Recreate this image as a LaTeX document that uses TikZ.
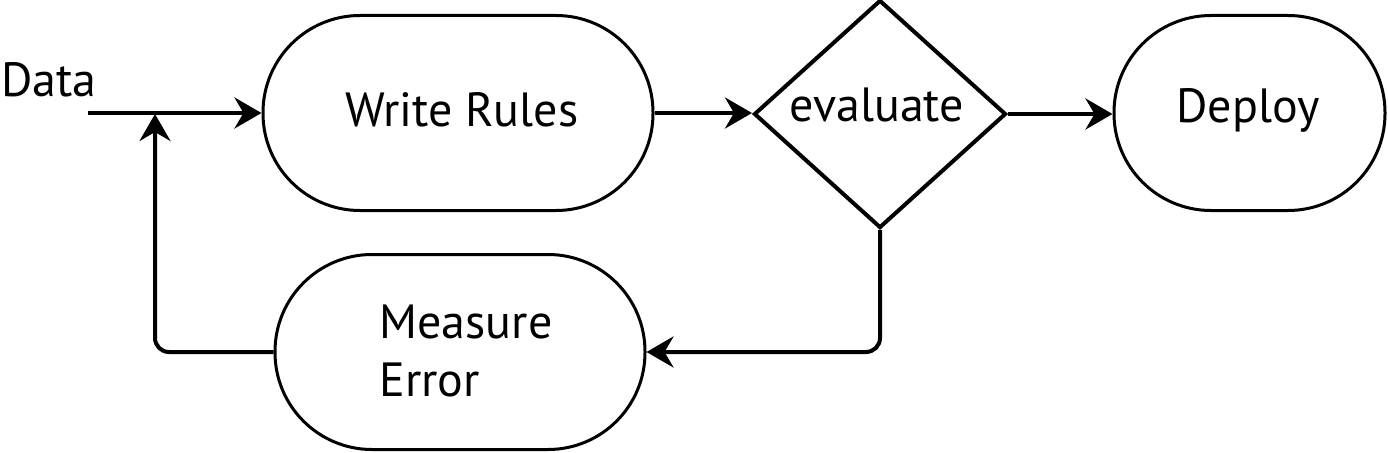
\documentclass[tikz,border=0pt]{standalone}
\usepackage{fontspec}
\setmainfont{PT Sans}
\usetikzlibrary{shapes.geometric,arrows.meta}
\begin{document}
\begin{tikzpicture}[x=1pt,y=-1pt,
  every node/.style={font=\fontsize{48}{58}\selectfont},
  stadium/.style={draw,line width=3pt,rounded corners=97pt,minimum height=195pt,inner sep=0pt},
  decision/.style={draw,line width=4pt,diamond,minimum width=252pt,minimum height=228pt,inner sep=0pt},
  conn/.style={line width=4pt,-{Stealth[length=27pt,width=31pt,inset=9pt]}}]
\useasboundingbox (0,0) rectangle (1388,452);
\node[stadium,minimum width=390pt] (write) at (458,113) {};
\node at (462,110) (writet) {Write Rules};
\node[decision] (eval) at (880,114) {};
\node at (877,105) (evalt) {evaluate};
\node[stadium,minimum width=271pt] (deploy) at (1249.5,113) {};
\node at (1248,110) (deployt) {Deploy};
\node[stadium,minimum width=370pt] (measure) at (460,352) {};
\node[align=left,anchor=west] at (376,351) (measuret) {Measure\\Error};
\node at (49,80) (data) {Data};
\coordinate (dstart) at (88,113);
\coordinate (join) at (155,114);
\coordinate (c1) at (155,352);
\draw[conn] (dstart) -- (write.west);
\draw[conn,rounded corners=14pt] (measure.west) -- (c1) -- (join);
\draw[conn] (write.east) -- (write.east -| eval.west);
\draw[conn] (eval.east) -- (eval.east -| deploy.west);
\draw[conn,rounded corners=14pt] (eval.south) -- (eval.south |- measure.east) -- (measure.east);
\end{tikzpicture}
\end{document}
